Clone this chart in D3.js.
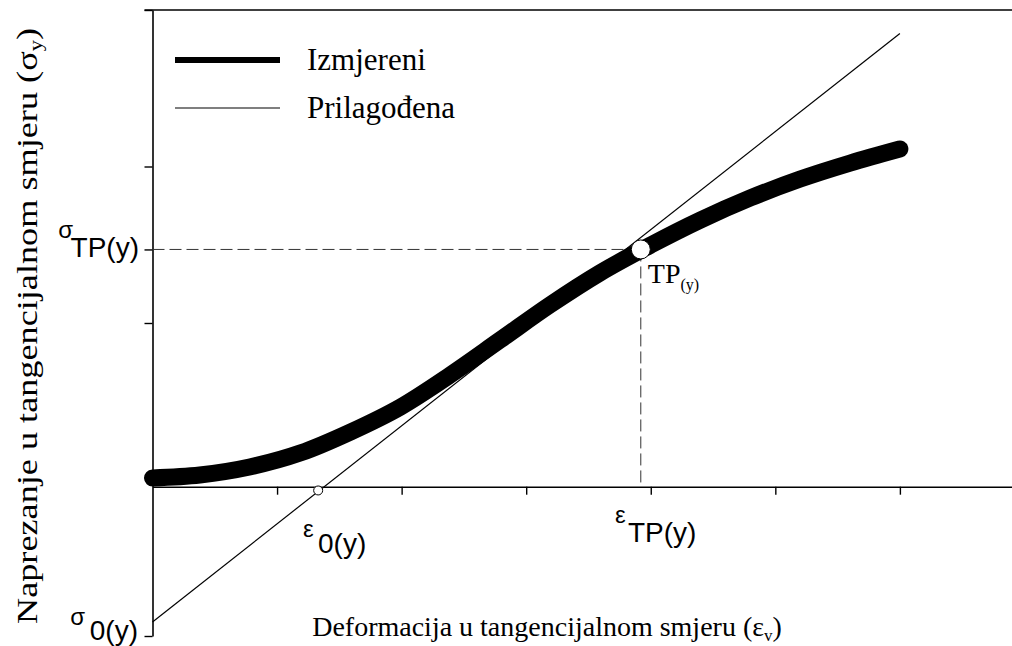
<!DOCTYPE html>
<html>
<head>
<meta charset="utf-8">
<script src="https://cdn.jsdelivr.net/npm/d3@7"></script>
<style>
  body { margin: 0; background: #fff; }
  text { fill: #000; }
  .serif { font-family: "Liberation Serif", "Times New Roman", serif; }
  .sans { font-family: "Liberation Sans", Arial, sans-serif; }
</style>
</head>
<body>
<svg id="chart" width="1012" height="646"></svg>
<script>
// measured curve (deformation, stress) in axis units
let measuredX = [0, 0.38, 0.78, 1.185, 1.59, 1.99, 2.39, 2.79, 3.19, 3.59, 4.00, 4.40, 4.80, 5.20, 5.60, 6.00];
let measuredY = [0.01, 0.029, 0.08, 0.169, 0.304, 0.463, 0.668, 0.891, 1.115, 1.319, 1.498, 1.658, 1.799, 1.92, 2.022, 2.112];

// fitted line end points
let fittedX = [0, 6.0];
let fittedY = [-0.91, 2.85];

// special points
let tpPoint = [3.92, 1.47];
let eps0Point = [1.33, -0.07];

let xTicks = [1, 2, 3, 4, 5, 6];
let yTicks = [1, 2, 3];
let sigma0 = -1;

let legendLabels = ["Izmjereni", "Prilagođena"];

let width = 1012;
let height = 646;
let svg = d3.select("#chart");

let x = d3.scaleLinear().domain([0, 6.9]).range([152.5, 1012]);
let y = d3.scaleLinear().domain([-1, 3]).range([636, 10]);
let xAxisLevel = -0.046;

(function () {
    drawAxes();
    drawGuides();
    drawLines();
    drawPoints();
    drawLabels();
    drawLegend();
}());

function drawAxes() {
    // top frame line
    svg.append("line")
        .attr("x1", x(0) - 8).attr("x2", width)
        .attr("y1", y(3)).attr("y2", y(3))
        .attr("stroke", "#000").attr("stroke-width", 1.6);

    let xAxis = d3.axisBottom(x).tickValues(xTicks).tickFormat("").tickSize(8).tickSizeOuter(0);
    let gx = svg.append("g")
        .attr("transform", "translate(0," + y(xAxisLevel) + ")")
        .call(xAxis);
    gx.select(".domain").attr("stroke-width", 1.6);
    gx.selectAll(".tick line").attr("stroke-width", 1.4);

    let yAxis = d3.axisLeft(y)
        .tickValues(yTicks.concat([tpPoint[1], sigma0]))
        .tickFormat("").tickSize(8).tickSizeOuter(0);
    let gy = svg.append("g")
        .attr("transform", "translate(" + x(0) + ",0)")
        .call(yAxis);
    gy.select(".domain").attr("stroke-width", 1.6);
    gy.selectAll(".tick line").attr("stroke-width", 1.4);
}

function drawGuides() {
    svg.append("line")
        .attr("x1", x(0)).attr("x2", x(tpPoint[0]))
        .attr("y1", y(tpPoint[1])).attr("y2", y(tpPoint[1]))
        .attr("stroke", "#333").attr("stroke-width", 1).attr("stroke-dasharray", "12,5");
    svg.append("line")
        .attr("x1", x(tpPoint[0])).attr("x2", x(tpPoint[0]))
        .attr("y1", y(tpPoint[1])).attr("y2", y(xAxisLevel))
        .attr("stroke", "#333").attr("stroke-width", 1).attr("stroke-dasharray", "12,5");
}

function drawLines() {
    let measured = measuredX.map((d, i) => [d, measuredY[i]]);
    let line = d3.line().x(d => x(d[0])).y(d => y(d[1])).curve(d3.curveMonotoneX);

    svg.append("path")
        .datum(measured)
        .attr("d", line)
        .attr("fill", "none")
        .attr("stroke", "#000")
        .attr("stroke-width", 17)
        .attr("stroke-linecap", "round");

    let fitted = fittedX.map((d, i) => [d, fittedY[i]]);
    svg.append("path")
        .datum(fitted)
        .attr("d", d3.line().x(d => x(d[0])).y(d => y(d[1])))
        .attr("fill", "none")
        .attr("stroke", "#000")
        .attr("stroke-width", 1.2);
}

function drawPoints() {
    svg.append("circle")
        .attr("cx", x(tpPoint[0])).attr("cy", y(tpPoint[1]))
        .attr("r", 9.5)
        .attr("fill", "#fff").attr("stroke", "#000").attr("stroke-width", 1);
    svg.append("circle")
        .attr("cx", x(eps0Point[0])).attr("cy", y(eps0Point[1]))
        .attr("r", 4.5)
        .attr("fill", "#fff").attr("stroke", "#000").attr("stroke-width", 1);
}

// greek symbol raised above a bigger sans label
function symbolLabel(sym, main, xs, ys, xm, ym, anchor) {
    svg.append("text").attr("class", "sans")
        .attr("x", xs).attr("y", ys)
        .attr("text-anchor", anchor)
        .style("font-size", "24px")
        .text(sym);
    svg.append("text").attr("class", "sans")
        .attr("x", xm).attr("y", ym)
        .attr("text-anchor", anchor)
        .style("font-size", "28px")
        .text(main);
}

function drawLabels() {
    symbolLabel("σ", "TP(y)", 73, y(tpPoint[1]) - 11, 139, y(tpPoint[1]) + 8, "end");
    symbolLabel("σ", "0(y)", 85, y(sigma0) - 11, 138, y(sigma0) + 4, "end");
    symbolLabel("ε", "0(y)", 303, 537, 318, 553, "start");
    symbolLabel("ε", "TP(y)", 615, 523, 628, 542, "start");

    let tp = svg.append("text").attr("class", "serif")
        .attr("x", x(tpPoint[0]) + 7).attr("y", y(tpPoint[1]) + 34)
        .style("font-size", "28px");
    tp.append("tspan").text("TP");
    tp.append("tspan").attr("dy", 7).style("font-size", "16px").text("(y)");

    let xt = svg.append("text").attr("class", "serif")
        .attr("x", 547).attr("y", 636)
        .attr("text-anchor", "middle")
        .style("font-size", "28px");
    xt.append("tspan").text("Deformacija u tangencijalnom smjeru (ε");
    xt.append("tspan").attr("dy", 5).style("font-size", "17px").text("v");
    xt.append("tspan").attr("dy", -5).text(")");

    // the vertical title is drawn longer than its natural width in the original
    let yt = svg.append("text").attr("class", "serif")
        .attr("transform", "translate(37,326) rotate(-90)")
        .attr("text-anchor", "middle")
        .attr("textLength", 596)
        .attr("lengthAdjust", "spacingAndGlyphs")
        .style("font-size", "29px");
    yt.append("tspan").text("Naprezanje u tangencijalnom smjeru (σ");
    yt.append("tspan").attr("dy", 5).style("font-size", "18px").text("y");
    yt.append("tspan").attr("dy", -5).text(")");
}

function drawLegend() {
    let widths = [6, 1.2];
    legendLabels.forEach(function(lab, i) {
        let ly = 60 + i * 48;
        svg.append("line")
            .attr("x1", 175).attr("x2", 280)
            .attr("y1", ly).attr("y2", ly)
            .attr("stroke", "#000").attr("stroke-width", widths[i]);
        svg.append("text").attr("class", "serif")
            .attr("x", 307).attr("y", ly + 10)
            .style("font-size", "31px")
            .text(lab);
    });
}
</script>
</body>
</html>
